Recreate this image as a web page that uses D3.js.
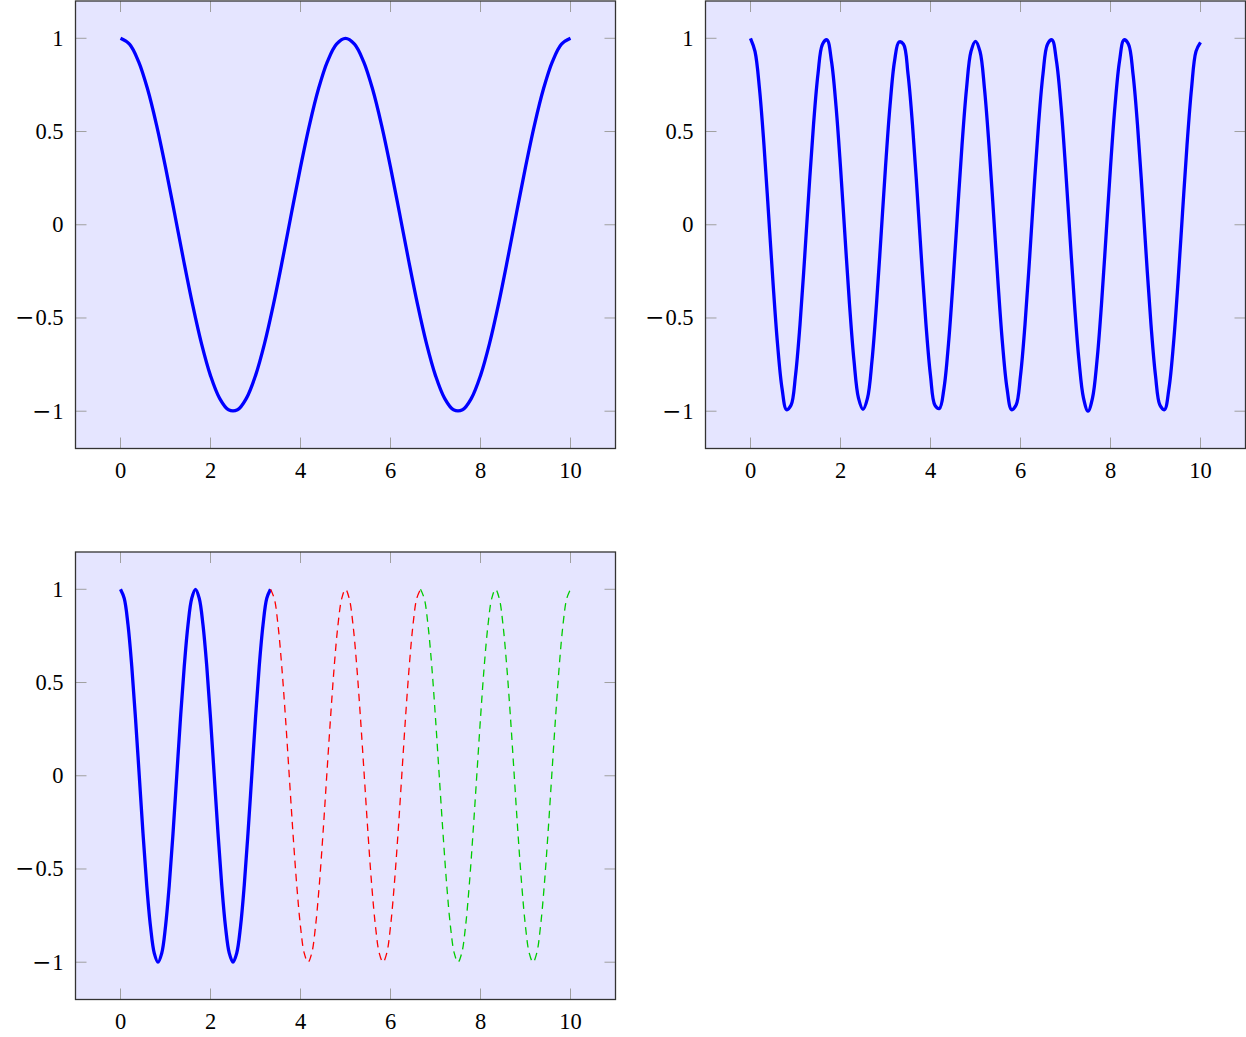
<!DOCTYPE html>
<html><head><meta charset="utf-8">
<script src="https://cdn.jsdelivr.net/npm/d3@7/dist/d3.min.js"></script>
<style>body{margin:0;background:#fff}svg{display:block}</style>
</head><body>
<script>
// ---------- data ----------
const xTicks = [0, 2, 4, 6, 8, 10];
const yTicks = [-1, -0.5, 0, 0.5, 1];
const yTickLabels = ["\u22121", "\u22120.5", "0", "0.5", "1"];
const xDomain = [-1, 11];
const yDomain = [-1.2, 1.2];

// panel 1 (period 5)
const plot1X = [0,0.2,0.4,0.6,0.8,1,1.2,1.4,1.6,1.8,2,2.2,2.4,2.6,2.8,3,3.2,3.4,3.6,3.8,4,4.2,4.4,4.6,4.8,5,
  5.2,5.4,5.6,5.8,6,6.2,6.4,6.6,6.8,7,7.2,7.4,7.6,7.8,8,8.2,8.4,8.6,8.8,9,9.2,9.4,9.6,9.8,10];
const plot1Y = [1,0.9686,0.8763,0.7290,0.5358,0.3090,0.0628,-0.1874,-0.4258,-0.6374,-0.8090,-0.9298,-0.9921,
  -0.9921,-0.9298,-0.8090,-0.6374,-0.4258,-0.1874,0.0628,0.3090,0.5358,0.7290,0.8763,0.9686,1,
  0.9686,0.8763,0.7290,0.5358,0.3090,0.0628,-0.1874,-0.4258,-0.6374,-0.8090,-0.9298,-0.9921,
  -0.9921,-0.9298,-0.8090,-0.6374,-0.4258,-0.1874,0.0628,0.3090,0.5358,0.7290,0.8763,0.9686,1];

// panel 2 (period 10/6)
const plot2X = [0,0.1,0.2,0.3,0.4,0.5,0.6,0.7,0.8,0.9,1,1.1,1.2,1.3,1.4,1.5,1.6,1.7,1.8,1.9,
  2,2.1,2.2,2.3,2.4,2.5,2.6,2.7,2.8,2.9,3,3.1,3.2,3.3,3.4,3.5,3.6,3.7,3.8,3.9,
  4,4.1,4.2,4.3,4.4,4.5,4.6,4.7,4.8,4.9,5,5.1,5.2,5.3,5.4,5.5,5.6,5.7,5.8,5.9,
  6,6.1,6.2,6.3,6.4,6.5,6.6,6.7,6.8,6.9,7,7.1,7.2,7.3,7.4,7.5,7.6,7.7,7.8,7.9,
  8,8.1,8.2,8.3,8.4,8.5,8.6,8.7,8.8,8.9,9,9.1,9.2,9.3,9.4,9.5,9.6,9.7,9.8,9.9,10];
const plot2Y = [
  1,0.9298,0.7290,0.4258,0.0628,-0.3090,-0.6374,-0.8763,-0.9921,-0.9686,
  -0.8090,-0.5358,-0.1874,0.1874,0.5358,0.8090,0.9686,0.9921,0.8763,0.6374,
  0.3090,-0.0628,-0.4258,-0.7290,-0.9298,-0.99,-0.9298,-0.7290,-0.4258,-0.0628,
  0.3090,0.6374,0.8763,0.980,0.9686,0.8090,0.5358,0.1874,-0.1874,-0.5358,
  -0.8090,-0.9686,-0.985,-0.8763,-0.6374,-0.3090,0.0628,0.4258,0.7290,0.9298,
  0.984,0.9298,0.7290,0.4258,0.0628,-0.3090,-0.6374,-0.8763,-0.9921,-0.9686,
  -0.8090,-0.5358,-0.1874,0.1874,0.5358,0.8090,0.9686,0.9921,0.8763,0.6374,
  0.3090,-0.0628,-0.4258,-0.7290,-0.9298,-1,-0.9298,-0.7290,-0.4258,-0.0628,
  0.3090,0.6374,0.8763,0.9921,0.9686,0.8090,0.5358,0.1874,-0.1874,-0.5358,
  -0.8090,-0.9686,-0.9921,-0.8763,-0.6374,-0.3090,0.0628,0.4258,0.7290,0.9298,
  0.978];

// panel 3 (same wave, three pieces)
const plot3X = [0,0.083,0.167,0.25,0.333,0.417,0.5,0.583,0.667,0.75,0.833,0.917,
  1,1.083,1.167,1.25,1.333,1.417,1.5,1.583,1.667,1.75,1.833,1.917,
  2,2.083,2.167,2.25,2.333,2.417,2.5,2.583,2.667,2.75,2.833,2.917,
  3,3.083,3.167,3.25,3.333,3.417,3.5,3.583,3.667,3.75,3.833,3.917,
  4,4.083,4.167,4.25,4.333,4.417,4.5,4.583,4.667,4.75,4.833,4.917,
  5,5.083,5.167,5.25,5.333,5.417,5.5,5.583,5.667,5.75,5.833,5.917,
  6,6.083,6.167,6.25,6.333,6.417,6.5,6.583,6.667,6.75,6.833,6.917,
  7,7.083,7.167,7.25,7.333,7.417,7.5,7.583,7.667,7.75,7.833,7.917,
  8,8.083,8.167,8.25,8.333,8.417,8.5,8.583,8.667,8.75,8.833,8.917,
  9,9.083,9.167,9.25,9.333,9.417,9.5,9.583,9.667,9.75,9.833,9.917,10];
const plot3Y = [
  1,0.9511,0.8090,0.5878,0.3090,0,-0.3090,-0.5878,-0.8090,-0.9511,-1,-0.9511,-0.8090,-0.5878,-0.3090,0,0.3090,0.5878,0.8090,0.9511,
  1,0.9511,0.8090,0.5878,0.3090,0,-0.3090,-0.5878,-0.8090,-0.9511,-1,-0.9511,-0.8090,-0.5878,-0.3090,0,0.3090,0.5878,0.8090,0.9511,
  1,0.9511,0.8090,0.5878,0.3090,0,-0.3090,-0.5878,-0.8090,-0.9511,-1,-0.9511,-0.8090,-0.5878,-0.3090,0,0.3090,0.5878,0.8090,0.9511,
  1,0.9511,0.8090,0.5878,0.3090,0,-0.3090,-0.5878,-0.8090,-0.9511,-1,-0.9511,-0.8090,-0.5878,-0.3090,0,0.3090,0.5878,0.8090,0.9511,
  1,0.9511,0.8090,0.5878,0.3090,0,-0.3090,-0.5878,-0.8090,-0.9511,-1,-0.9511,-0.8090,-0.5878,-0.3090,0,0.3090,0.5878,0.8090,0.9511,
  1,0.9511,0.8090,0.5878,0.3090,0,-0.3090,-0.5878,-0.8090,-0.9511,-1,-0.9511,-0.8090,-0.5878,-0.3090,0,0.3090,0.5878,0.8090,0.9511,
  1];
const plot3Pieces = [[0, 40], [40, 80], [80, 120]]; // index ranges: blue, red, green

// ---------- drawing ----------
const W = 1246, H = 1037;
const svg = d3.select("body").append("svg").attr("width", W).attr("height", H);

const PW = 540, PH = 447.5;
const zip = (xs, ys) => xs.map((x, i) => [x, ys[i]]);

const panels = [
  { left: 75.5, top: 1, series: [
      { pts: zip(plot1X, plot1Y), color: "#0000ff", width: 3.3, dash: null }] },
  { left: 705.5, top: 1, series: [
      { pts: zip(plot2X, plot2Y), color: "#0000ff", width: 3.3, dash: null }] },
  { left: 75.5, top: 552, series: [
      { pts: zip(plot3X, plot3Y).slice(plot3Pieces[0][0], plot3Pieces[0][1] + 1), color: "#0000ff", width: 3.3, dash: null },
      { pts: zip(plot3X, plot3Y).slice(plot3Pieces[1][0], plot3Pieces[1][1] + 1), color: "#ff0000", width: 1.3, dash: "7.5,5.5" },
      { pts: zip(plot3X, plot3Y).slice(plot3Pieces[2][0], plot3Pieces[2][1] + 1), color: "#00cc00", width: 1.3, dash: "7.5,5.5" }] }
];

const font = "'Liberation Serif','Times New Roman',serif";
const tickLen = 11;

panels.forEach(p => {
  const x = d3.scaleLinear().domain(xDomain).range([p.left, p.left + PW]);
  const y = d3.scaleLinear().domain(yDomain).range([p.top + PH, p.top]);
  const g = svg.append("g");

  g.append("rect").attr("x", p.left).attr("y", p.top).attr("width", PW).attr("height", PH)
    .attr("fill", "#e5e5ff");

  // ticks (inside, on all four sides)
  const tg = g.append("g").attr("stroke", "#a0a0a0").attr("stroke-width", 1);
  xTicks.forEach(t => {
    const xx = x(t);
    tg.append("line").attr("x1", xx).attr("x2", xx).attr("y1", p.top + PH).attr("y2", p.top + PH - tickLen);
    tg.append("line").attr("x1", xx).attr("x2", xx).attr("y1", p.top).attr("y2", p.top + tickLen);
  });
  yTicks.forEach(t => {
    const yy = y(t);
    tg.append("line").attr("x1", p.left).attr("x2", p.left + tickLen).attr("y1", yy).attr("y2", yy);
    tg.append("line").attr("x1", p.left + PW).attr("x2", p.left + PW - tickLen).attr("y1", yy).attr("y2", yy);
  });

  // curves
  const line = d3.line().x(d => x(d[0])).y(d => y(d[1])).curve(d3.curveCatmullRom.alpha(0.5));
  p.series.forEach(s => {
    g.append("path").attr("d", line(s.pts)).attr("fill", "none")
      .attr("stroke", s.color).attr("stroke-width", s.width)
      .attr("stroke-linejoin", "round")
      .attr("stroke-dasharray", s.dash);
  });

  // frame
  g.append("rect").attr("x", p.left).attr("y", p.top).attr("width", PW).attr("height", PH)
    .attr("fill", "none").attr("stroke", "#333").attr("stroke-width", 1.3);

  // tick labels
  xTicks.forEach(t => {
    g.append("text").attr("x", x(t)).attr("y", p.top + PH + 29.5)
      .attr("text-anchor", "middle").attr("font-family", font).attr("font-size", 22.5)
      .attr("fill", "#000").text(String(t));
  });
  yTicks.forEach((t, i) => {
    const lab = yTickLabels[i];
    const txt = g.append("text").attr("x", p.left - 12).attr("y", y(t) + 7.5)
      .attr("text-anchor", "end").attr("font-family", font).attr("font-size", 22.5)
      .attr("fill", "#000");
    if (lab.startsWith("\u2212")) {
      txt.append("tspan").attr("font-family", "'DejaVu Serif',serif").attr("font-size", 23).text("\u2212");
      txt.append("tspan").attr("dx", 1).text(lab.slice(1));
    } else {
      txt.text(lab);
    }
  });
});
</script>
</body></html>
